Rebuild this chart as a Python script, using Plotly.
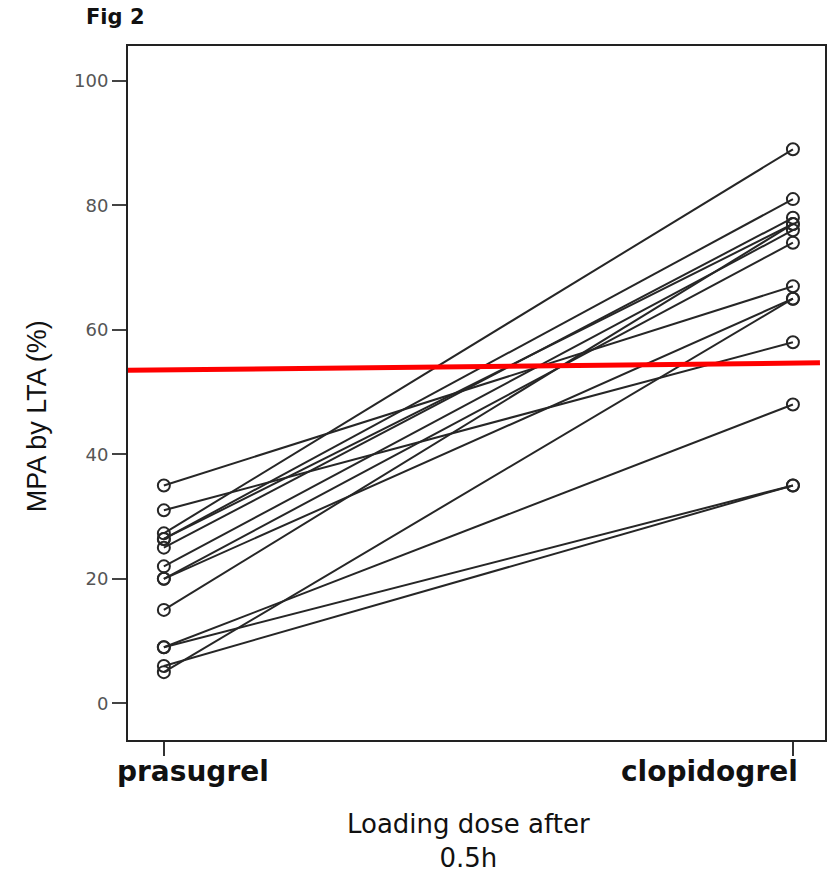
import plotly.graph_objects as go

# ---- data ----
groups = ["prasugrel", "clopidogrel"]
prasugrel_mpa = [27.3, 26.4, 25.0, 22.0, 20.0, 20.0, 35.0, 31.0, 15.0, 26.4, 5.0, 9.0, 9.0, 6.0]
clopidogrel_mpa = [89.0, 81.0, 78.0, 76.0, 74.0, 65.0, 67.0, 58.0, 77.0, 77.0, 65.0, 48.0, 35.0, 35.0]
y_ticks = [0, 20, 40, 60, 80, 100]
cutoff_x = [-0.057, 1.043]
cutoff_y = [53.5, 54.7]
x_title_lines = ["Loading dose after", "0.5h"]

fig = go.Figure()

for a, b in zip(prasugrel_mpa, clopidogrel_mpa):
    fig.add_trace(go.Scatter(
        x=[0, 1], y=[a, b], mode="lines+markers",
        line=dict(color="#262626", width=2),
        marker=dict(symbol="circle-open", size=12, color="#262626",
                    line=dict(width=2, color="#262626")),
        showlegend=False, hoverinfo="skip",
    ))

fig.add_trace(go.Scatter(
    x=cutoff_x, y=cutoff_y, mode="lines",
    line=dict(color="#ff0000", width=5), showlegend=False, hoverinfo="skip",
))

fig.update_layout(
    width=838, height=875,
    margin=dict(l=128, r=11, t=46, b=135),
    paper_bgcolor="white", plot_bgcolor="white",
    xaxis=dict(
        range=[-0.057, 1.051], tickmode="array", tickvals=[0, 1], ticktext=["", ""],
        showline=True, linecolor="#222", linewidth=2, mirror=True,
        ticks="outside", ticklen=14, tickwidth=2, tickcolor="#333",
        showgrid=False, zeroline=False,
    ),
    yaxis=dict(
        range=[-5.9, 105.6], tickmode="array", tickvals=y_ticks,
        showline=True, linecolor="#222", linewidth=2, mirror=True,
        ticks="outside", ticklen=14, tickwidth=2, tickcolor="#444",
        showgrid=False, zeroline=False,
        tickfont=dict(family="DejaVu Sans", size=18, color="#555"),
    ),
    annotations=[
        dict(text="<b>Fig 2</b>", xref="paper", yref="paper", x=-0.0186, y=1.042,
             xanchor="center", yanchor="middle", showarrow=False,
             font=dict(family="DejaVu Sans", size=21, color="#111")),
        dict(text="MPA by LTA (%)", xref="paper", yref="paper", x=-0.13, y=0.467,
             xanchor="center", yanchor="middle", showarrow=False, textangle=-90,
             font=dict(family="Liberation Sans", size=27, color="#111")),
        dict(text="<b>" + groups[0] + "</b>", xref="paper", yref="paper", x=0.093, y=-0.046,
             xanchor="center", yanchor="middle", showarrow=False,
             font=dict(family="DejaVu Sans", size=28, color="#111")),
        dict(text="<b>" + groups[1] + "</b>", xref="paper", yref="paper", x=0.834, y=-0.046,
             xanchor="center", yanchor="middle", showarrow=False,
             font=dict(family="DejaVu Sans", size=28, color="#111")),
        dict(text="<br>".join(x_title_lines), xref="paper", yref="paper", x=0.488, y=-0.146,
             xanchor="center", yanchor="middle", showarrow=False,
             font=dict(family="DejaVu Sans", size=26, color="#111")),
    ],
)

fig.write_html("out.html", config={"displayModeBar": False},
               post_script="document.body.style.margin='0';")
